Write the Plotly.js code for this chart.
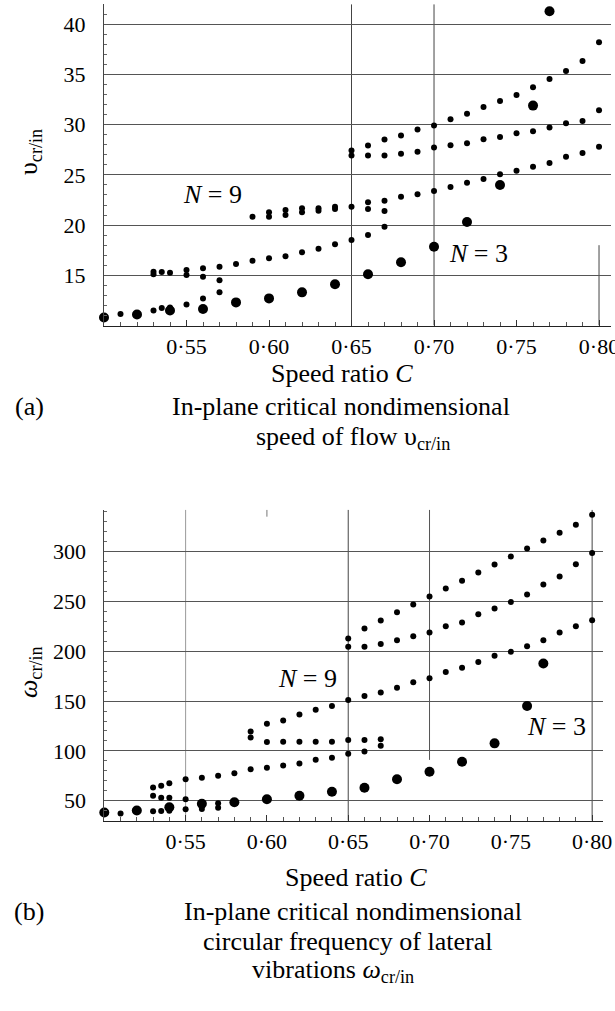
<!DOCTYPE html>
<html><head><meta charset="utf-8">
<script src="https://cdn.plot.ly/plotly-3.0.1.min.js"></script>
<style>html,body{margin:0;padding:0;background:#fff}#chart{width:615px;height:1011px}</style>
</head><body><div id="chart"></div>
<script>
// ---------- (a) critical speed of flow ----------
const aBigX = [0.50,0.52,0.54,0.56,0.58,0.60,0.62,0.64,0.66,0.68,0.70,0.72,0.74,0.76,0.77];
const aBigY = [10.8,11.1,11.5,11.65,12.3,12.7,13.3,14.1,15.1,16.3,17.85,20.3,24.0,31.9,41.3];

const aS1X = [0.51,0.53,0.535,0.54,0.55,0.56,0.57];
const aS1Y = [11.15,11.5,11.75,11.8,12.1,12.7,13.3];
const aS2X = [0.53,0.53,0.535,0.54,0.55,0.55,0.56,0.56,0.57];
const aS2Y = [15.35,15.1,15.33,15.26,15.53,15.03,15.7,14.86,14.5];
const aS3X = [0.57,0.58,0.59,0.60,0.61,0.62,0.63,0.64,0.65,0.66,0.67];
const aS3Y = [15.86,16.13,16.45,16.69,16.89,17.29,17.65,18.09,18.52,19.01,19.84];
const aS4X = [0.59,0.60,0.60,0.61,0.61,0.62,0.62,0.63,0.63,0.64,0.64,0.65,0.66,0.66,0.67,0.67];
const aS4Y = [20.84,21.27,20.84,21.5,21.0,21.67,21.27,21.67,21.43,21.83,21.6,21.83,22.27,21.6,22.43,21.4];
const aS5X = [0.68,0.69,0.70,0.71,0.72,0.73,0.74,0.75,0.76,0.77,0.78,0.79,0.80];
const aS5Y = [22.83,23.06,23.4,23.79,24.22,24.59,25.06,25.42,25.82,26.19,26.81,27.18,27.81];
const aS6X = [0.65,0.66,0.67,0.68,0.69,0.70,0.71,0.72,0.73,0.74,0.75,0.76,0.77,0.78,0.79,0.80];
const aS6Y = [26.93,26.93,26.93,27.1,27.3,27.74,27.94,28.14,28.54,28.77,29.14,29.34,29.71,30.14,30.37,31.43];
const aS7X = [0.65,0.66,0.67,0.68,0.69,0.70,0.71,0.72,0.73,0.74,0.75,0.76,0.77,0.78,0.79,0.80];
const aS7Y = [27.42,27.92,28.52,28.93,29.53,29.93,30.53,31.1,31.75,32.35,32.95,33.73,34.55,35.35,36.34,38.2];

// ---------- (b) critical circular frequency ----------
const bBigX = [0.50,0.52,0.54,0.56,0.58,0.60,0.62,0.64,0.66,0.68,0.70,0.72,0.74,0.76,0.77];
const bBigY = [38.2,40.2,43.5,47.0,48.5,51.5,55.0,59.0,63.0,71.5,79.1,89.1,107.6,145.0,187.7];

const bS1X = [0.51,0.53,0.535,0.54,0.55,0.56,0.57];
const bS1Y = [37.3,39.6,39.7,40.0,41.6,41.7,43.0];
const bS2X = [0.53,0.535,0.54,0.55,0.57];
const bS2Y = [55.0,53.0,53.0,51.4,47.4];
const bS3X = [0.53,0.535,0.54,0.55,0.56,0.57,0.58,0.59,0.60,0.61,0.62,0.63,0.64,0.65,0.66,0.67];
const bS3Y = [63.4,65.0,67.5,71.5,73.1,75.1,77.5,81.5,83.2,85.5,87.5,91.1,93.1,97.1,99.5,105.2];
const bS4X = [0.59,0.60,0.61,0.62,0.63,0.64,0.65,0.66,0.67];
const bS4Y = [113.4,108.9,109.2,109.2,109.2,109.2,110.9,110.9,111.6];
const bS5X = [0.59,0.60,0.61,0.62,0.63,0.64,0.65,0.66,0.67,0.68,0.69,0.70,0.71,0.72,0.73,0.74,0.75,0.76,0.77,0.78,0.79,0.80];
const bS5Y = [119.5,127.2,130.5,136.5,141.3,145.0,151.0,155.0,158.7,163.3,169.0,172.8,179.1,183.4,189.1,195.4,199.4,205.0,211.0,218.9,225.2,231.2];
const bS6X = [0.65,0.66,0.67,0.68,0.69,0.70,0.71,0.72,0.73,0.74,0.75,0.76,0.77,0.78,0.79,0.80];
const bS6Y = [204.5,204.5,207.2,211.0,215.0,218.8,225.1,228.9,237.1,243.0,249.3,257.0,267.0,275.0,287.3,298.6];
const bS7X = [0.65,0.66,0.67,0.68,0.69,0.70,0.71,0.72,0.73,0.74,0.75,0.76,0.77,0.78,0.79,0.80];
const bS7Y = [212.9,222.9,230.9,239.0,247.0,255.0,263.0,270.7,279.0,287.0,295.0,303.0,311.0,319.0,327.0,337.0];

// ---------- tick labels ----------
const xTickVals = [0.55,0.60,0.65,0.70,0.75,0.80];
const xTickText = ['0·55','0·60','0·65','0·70','0·75','0·80'];
const aYTicks = [15,20,25,30,35,40];
const bYTicks = [50,100,150,200,250,300];

const FONT = 'Liberation Serif, Times New Roman, serif';
const SMALL = 6, BIG = 10;

function pts(x, y, xa, ya, size) {
  return {x: x, y: y, xaxis: xa, yaxis: ya, type: 'scatter', mode: 'markers',
    marker: {color: '#000', size: size}, cliponaxis: false, showlegend: false, hoverinfo: 'x+y'};
}

const data = [
  pts(aS1X, aS1Y, 'x', 'y', SMALL), pts(aS2X, aS2Y, 'x', 'y', SMALL), pts(aS3X, aS3Y, 'x', 'y', SMALL),
  pts(aS4X, aS4Y, 'x', 'y', SMALL), pts(aS5X, aS5Y, 'x', 'y', SMALL), pts(aS6X, aS6Y, 'x', 'y', SMALL),
  pts(aS7X, aS7Y, 'x', 'y', SMALL), pts(aBigX, aBigY, 'x', 'y', BIG),
  pts(bS1X, bS1Y, 'x2', 'y2', SMALL), pts(bS2X, bS2Y, 'x2', 'y2', SMALL), pts(bS3X, bS3Y, 'x2', 'y2', SMALL),
  pts(bS4X, bS4Y, 'x2', 'y2', SMALL), pts(bS5X, bS5Y, 'x2', 'y2', SMALL), pts(bS6X, bS6Y, 'x2', 'y2', SMALL),
  pts(bS7X, bS7Y, 'x2', 'y2', SMALL), pts(bBigX, bBigY, 'x2', 'y2', BIG)
];

const GRID = '#555';
function xAxis(domain, range, anchor) {
  return {domain: domain, range: range, anchor: anchor, showgrid: false, zeroline: false,
    showline: true, linecolor: '#222', linewidth: 1.2, mirror: false,
    tickmode: 'array', tickvals: xTickVals, ticktext: xTickText, ticklabeloverflow: 'allow',
    ticks: 'inside', ticklen: 6, tickcolor: '#333', ticklabelstandoff: 1,
    minor: {dtick: 0.01, tick0: 0.5, ticks: 'inside', ticklen: 4, tickcolor: '#555', showgrid: false},
    tickfont: {family: FONT, size: 22, color: '#000'}, fixedrange: true};
}
function yAxis(domain, range, anchor, tv, mdt) {
  return {domain: domain, range: range, anchor: anchor, showgrid: true, gridcolor: GRID, gridwidth: 1,
    zeroline: false, showline: true, linecolor: '#444', linewidth: 1, mirror: false,
    tickmode: 'array', tickvals: tv, ticks: 'inside', ticklen: 5, tickcolor: '#555', ticklabelstandoff: 13,
    minor: {dtick: mdt, tick0: 0, ticks: 'inside', ticklen: 3, tickcolor: '#666', showgrid: false},
    tickfont: {family: FONT, size: 22, color: '#000'}, fixedrange: true};
}

// vertical reference lines (x positions, y extents in data units)
const aVLineX = [0.65, 0.70, 0.80];
const aVLineY0 = [10, 10, 10];
const aVLineY1 = [42, 42, 18];
const bVLineX = [0.55, 0.60, 0.65, 0.70, 0.80];
const bVLineY0 = [30, 335, 30, 91, 30];
const bVLineY1 = [342, 342, 342, 342, 342];
const bVLineCol = ['#999', '#777', '#444', '#555', '#444'];

const shapes = [];
aVLineX.forEach((x, i) => shapes.push({type: 'line', xref: 'x', yref: 'y', x0: x, x1: x,
  y0: aVLineY0[i], y1: aVLineY1[i], line: {color: '#444', width: 1}, layer: 'below'}));
bVLineX.forEach((x, i) => shapes.push({type: 'line', xref: 'x2', yref: 'y2', x0: x, x1: x,
  y0: bVLineY0[i], y1: bVLineY1[i], line: {color: bVLineCol[i], width: 1}, layer: 'below'}));

function py(p) { return 1 - p / 1011; }
function txt(text, x, y, size, extra) {
  return Object.assign({text: text, xref: 'paper', yref: 'paper', x: x / 615, y: py(y),
    xanchor: 'center', yanchor: 'middle', showarrow: false,
    font: {family: FONT, size: size, color: '#000'}}, extra || {});
}

const annotations = [
  // panel (a)
  txt('υ<sub>cr/in</sub>', 30, 152, 26, {textangle: -90}),
  txt('Speed ratio <i>C</i>', 342, 373, 26),
  txt('(a)', 29, 407, 26),
  txt('In-plane critical nondimensional', 341, 407, 26),
  txt('speed of flow υ<sub>cr/in</sub>', 353, 438, 26),
  {text: '<i>N</i> = 9', xref: 'x', yref: 'y', x: 0.566, y: 23.0, showarrow: false,
   font: {family: FONT, size: 26, color: '#000'}},
  {text: '<i>N</i> = 3', xref: 'x', yref: 'y', x: 0.727, y: 17.2, showarrow: false,
   font: {family: FONT, size: 26, color: '#000'}},
  // panel (b)
  txt('<i>ω</i><sub>cr/in</sub>', 30, 672, 26, {textangle: -90}),
  txt('Speed ratio <i>C</i>', 356, 877, 26),
  txt('(b)', 29, 911, 26),
  txt('In-plane critical nondimensional', 353, 911, 26),
  txt('circular frequency of lateral', 348, 941, 26),
  txt('vibrations <i>ω</i><sub>cr/in</sub>', 333, 971, 26),
  {text: '<i>N</i> = 9', xref: 'x2', yref: 'y2', x: 0.625, y: 173, showarrow: false,
   font: {family: FONT, size: 26, color: '#000'}},
  {text: '<i>N</i> = 3', xref: 'x2', yref: 'y2', x: 0.778, y: 125, showarrow: false,
   font: {family: FONT, size: 26, color: '#000'}}
];

const layout = {
  width: 615, height: 1011, margin: {l: 0, r: 0, t: 0, b: 0},
  paper_bgcolor: '#fff', plot_bgcolor: '#fff', showlegend: false,
  font: {family: FONT, color: '#000'},
  xaxis: xAxis([104 / 615, 611.4 / 615], [0.50, 0.8075], 'y'),
  yaxis: yAxis([py(325.5), py(4.2)], [10, 42], 'x', aYTicks, 1),
  xaxis2: xAxis([104.3 / 615, 602.7 / 615], [0.50, 0.8065], 'y2'),
  yaxis2: yAxis([py(820.7), py(509.7)], [30, 342], 'x2', bYTicks, 10),
  shapes: shapes, annotations: annotations
};

Plotly.newPlot('chart', data, layout, {staticPlot: true, displayModeBar: false});
</script></body></html>
